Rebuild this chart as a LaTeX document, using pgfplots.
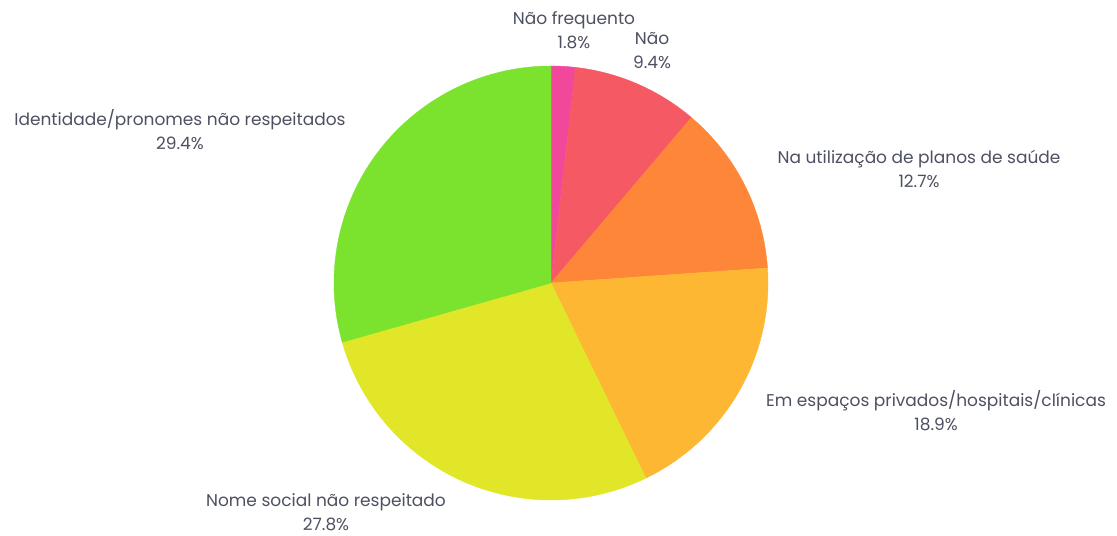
\documentclass[border=0pt]{standalone}
\usepackage{pgfplots}
\pgfplotsset{compat=1.18}
\usepackage{fontspec}
\setmainfont{Poppins}
\definecolor{cPink}{HTML}{F1489C}
\definecolor{cRed}{HTML}{F55A64}
\definecolor{cOrange}{HTML}{FD8638}
\definecolor{cAmber}{HTML}{FDB733}
\definecolor{cYellow}{HTML}{E2E628}
\definecolor{cGreen}{HTML}{7BE32E}
\definecolor{txt}{HTML}{4D5060}
\tikzset{lbl/.style={font=\fontsize{8.5}{12}\selectfont, text=txt, align=center, inner sep=0pt}}

\begin{document}
\begin{tikzpicture}
\begin{axis}[
    x=0.5pt, y=0.5pt,
    xmin=0, xmax=1117, ymin=0, ymax=535,
    hide axis, clip=false,
  ]
  \path (axis cs:0,0) (axis cs:1117,535);
  % slices, clockwise from 12 o'clock
  \xdef\cumul{90}
  \foreach \v/\c in {1.8/cPink, 9.4/cRed, 12.7/cOrange, 18.9/cAmber, 27.8/cYellow, 29.4/cGreen}{
    \pgfmathsetmacro\angA{\cumul}
    \pgfmathsetmacro\angB{\cumul-3.6*\v}
    \edef\temp{\noexpand\fill[\c, draw=\c, line width=0.2pt]
      (axis cs:551,252) -- ++(\angA:108.5pt)
      arc[start angle=\angA, end angle=\angB, radius=108.5pt] -- cycle;}
    \temp
    \xdef\cumul{\angB}
  }
  % labels
  \node[lbl] at (axis cs:574,505) {Não frequento\\1.8\%};
  \node[lbl] at (axis cs:652,484) {Não\\9.4\%};
  \node[lbl] at (axis cs:919,366) {Na utilização de planos de saúde\\12.7\%};
  \node[lbl] at (axis cs:936,124) {Em espaços privados/hospitais/clínicas\\18.9\%};
  \node[lbl] at (axis cs:326,23) {Nome social não respeitado\\27.8\%};
  \node[lbl] at (axis cs:180,405) {Identidade/pronomes não respeitados\\29.4\%};
\end{axis}
\end{tikzpicture}
\end{document}
